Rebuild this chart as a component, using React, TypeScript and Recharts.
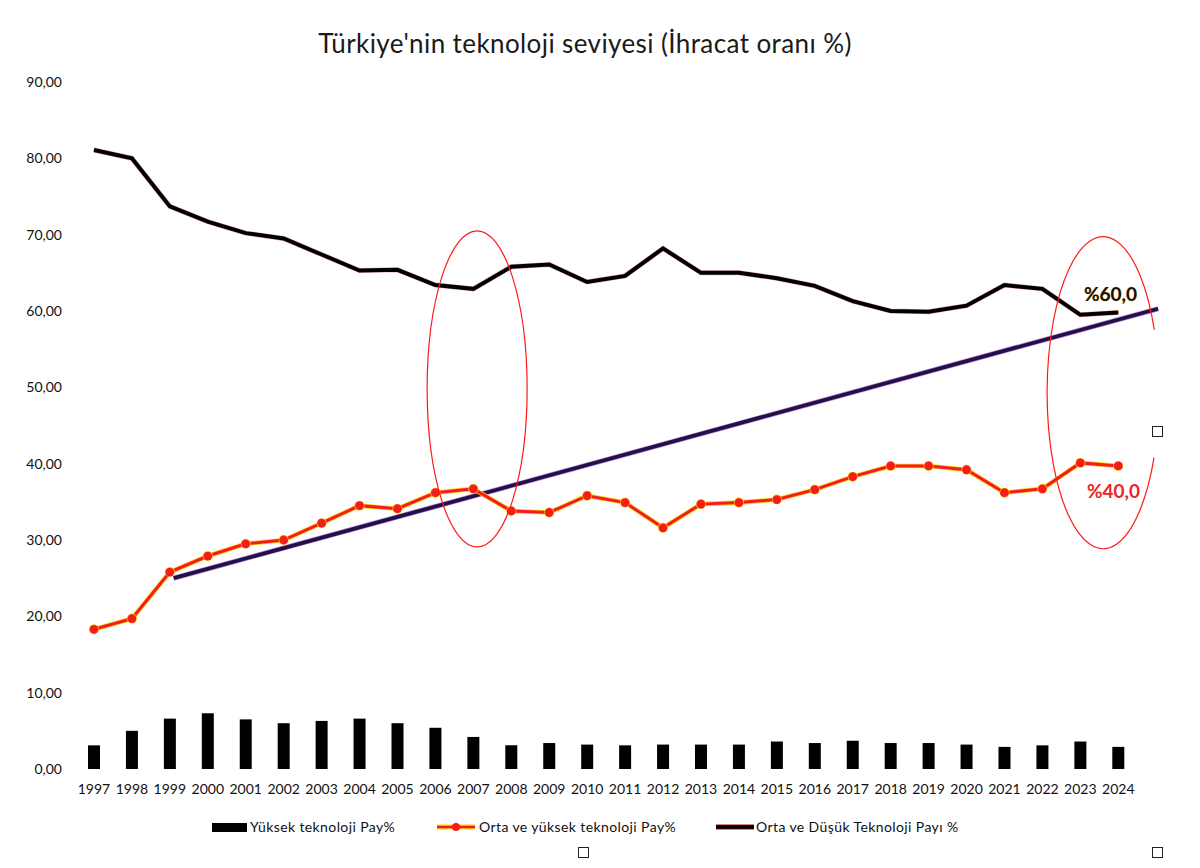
import React from 'react';
import {
  ComposedChart,
  Bar,
  Line,
  XAxis,
  YAxis,
  ReferenceLine,
  ReferenceDot,
} from 'recharts';

// ---- data ----
const years = [
  1997, 1998, 1999, 2000, 2001, 2002, 2003, 2004, 2005, 2006, 2007, 2008, 2009, 2010,
  2011, 2012, 2013, 2014, 2015, 2016, 2017, 2018, 2019, 2020, 2021, 2022, 2023, 2024,
];
const highTech = [
  3.1, 5.0, 6.6, 7.3, 6.5, 6.0, 6.3, 6.6, 6.0, 5.4, 4.2, 3.1, 3.4, 3.2,
  3.1, 3.2, 3.2, 3.2, 3.6, 3.4, 3.7, 3.4, 3.4, 3.2, 2.9, 3.1, 3.6, 2.9,
];
const midHighTech = [
  18.3, 19.7, 25.8, 27.9, 29.5, 30.0, 32.2, 34.5, 34.1, 36.2, 36.7, 33.8, 33.6, 35.8,
  34.9, 31.6, 34.7, 34.9, 35.3, 36.6, 38.3, 39.7, 39.7, 39.2, 36.2, 36.7, 40.1, 39.7,
];
const midLowTech = [
  81.1, 80.0, 73.7, 71.7, 70.2, 69.5, 67.4, 65.3, 65.4, 63.4, 62.9, 65.8, 66.1, 63.8,
  64.6, 68.2, 65.0, 65.0, 64.3, 63.3, 61.3, 60.0, 59.9, 60.7, 63.4, 62.9, 59.5, 59.8,
];
const yTicks = [0, 10, 20, 30, 40, 50, 60, 70, 80, 90];

// hand drawn trend line and the two circled regions
const trendStart = { year: 1999.1, value: 25.0 };
const trendEnd = { year: 2025.05, value: 60.3 };
const circle2007 = { year: 2007.1, value: 49.8 };
const circleEnd = { year: 2023.6, value: 49.3 };

const seriesNames = {
  high: 'Yüksek teknoloji Pay%',
  midHigh: 'Orta ve yüksek teknoloji Pay%',
  midLow: 'Orta ve Düşük Teknoloji Payı %',
};

const rows = years.map((y, i) => ({
  year: y,
  high: highTech[i],
  midHigh: midHighTech[i],
  midLow: midLowTech[i],
}));

const fmt = (v: number) => v.toFixed(2).replace('.', ',');
const font = 'Lato, "Open Sans", sans-serif';

function Ellipse(props: any) {
  const { cx, cy } = props;
  return <ellipse cx={cx} cy={cy} rx={50} ry={158} fill="none" stroke="#ff1a1a" strokeWidth={1.2} />;
}

// right side of the second ellipse is broken around the small handle
function BrokenEllipse(props: any) {
  const { cx, cy } = props;
  const rx = 56;
  const ry = 156;
  const a1 = (24.6 * Math.PI) / 180;
  const a2 = (-23.8 * Math.PI) / 180;
  const x1 = cx + rx * Math.cos(a1);
  const y1 = cy + ry * Math.sin(a1);
  const x2 = cx + rx * Math.cos(a2);
  const y2 = cy + ry * Math.sin(a2);
  return (
    <path
      d={`M${x1},${y1} A${rx},${ry} 0 1 1 ${x2},${y2}`}
      fill="none"
      stroke="#ff1a1a"
      strokeWidth={1.2}
    />
  );
}

const Handle = ({ left, top }: { left: number; top: number }) => (
  <div
    style={{
      position: 'absolute',
      left,
      top,
      width: 9,
      height: 9,
      border: '1px solid #222',
      background: '#fff',
    }}
  />
);

export default function App() {
  return (
    <div style={{ position: 'absolute', left: 0, top: 0, width: 1200, height: 868, background: '#fff', fontFamily: font }}>
      <div
        style={{
          position: 'absolute',
          top: 27,
          left: 0,
          width: 1170,
          textAlign: 'center',
          fontSize: 26,
          letterSpacing: 0.4,
          color: '#1a1a1a',
        }}
      >
        Türkiye'nin teknoloji seviyesi (İhracat oranı %)
      </div>

      <ComposedChart
        width={1200}
        height={800}
        data={rows}
        margin={{ top: 82, right: 40, left: 0, bottom: 0 }}
        style={{ position: 'absolute', left: 0, top: 0 }}
      >
        <XAxis
          dataKey="year"
          type="number"
          domain={[1996.5, 2025.1]}
          ticks={years}
          interval={0}
          axisLine={false}
          tickLine={false}
          tickSize={0}
          tickMargin={15}
          height={31}
          tick={{ fontSize: 14, fill: '#111', fontFamily: font }}
        />
        <YAxis
          domain={[0, 90]}
          ticks={yTicks}
          width={75}
          axisLine={false}
          tickLine={false}
          tickSize={0}
          tickMargin={13}
          tickFormatter={fmt}
          tick={{ fontSize: 14, fill: '#111', fontFamily: font }}
        />
        <Bar dataKey="high" name={seriesNames.high} fill="#000" barSize={12} isAnimationActive={false} />

        <ReferenceLine
          segment={[
            { x: trendStart.year, y: trendStart.value },
            { x: trendEnd.year, y: trendEnd.value },
          ]}
          stroke="#c78bd0"
          strokeWidth={5.2}
        />
        <ReferenceLine
          segment={[
            { x: trendStart.year, y: trendStart.value },
            { x: trendEnd.year, y: trendEnd.value },
          ]}
          stroke="#22104a"
          strokeWidth={3.8}
        />

        <Line
          dataKey="midLow"
          stroke="#d01010"
          strokeOpacity={0.35}
          strokeWidth={5}
          dot={false}
          legendType="none"
          isAnimationActive={false}
        />
        <Line
          dataKey="midLow"
          name={seriesNames.midLow}
          stroke="#000"
          strokeWidth={4}
          dot={false}
          isAnimationActive={false}
        />
        <Line
          dataKey="midHigh"
          stroke="#ffd21a"
          strokeWidth={4.6}
          dot={{ r: 5, fill: '#ffd21a', stroke: 'none' }}
          legendType="none"
          isAnimationActive={false}
        />
        <Line
          dataKey="midHigh"
          name={seriesNames.midHigh}
          stroke="#f41d1d"
          strokeWidth={3}
          dot={{ r: 4.4, fill: '#f41d1d', stroke: 'none' }}
          isAnimationActive={false}
        />

        <ReferenceDot x={circle2007.year} y={circle2007.value} shape={Ellipse} />
        <ReferenceDot x={circleEnd.year} y={circleEnd.value} shape={BrokenEllipse} />
      </ComposedChart>

      <div
        style={{
          position: 'absolute',
          left: 1084,
          top: 282,
          fontSize: 19,
          fontWeight: 700,
          color: '#141414',
          textShadow: '0 0 1px #ff9a1a',
        }}
      >
        %60,0
      </div>
      <div
        style={{
          position: 'absolute',
          left: 1087,
          top: 479,
          fontSize: 19,
          fontWeight: 700,
          color: '#f02222',
        }}
      >
        %40,0
      </div>

      {/* legend */}
      <div
        style={{
          position: 'absolute',
          top: 818,
          left: 0,
          width: 1200,
          height: 20,
          fontSize: 14,
          letterSpacing: 0.4,
          color: '#111',
        }}
      >
        <div style={{ position: 'absolute', left: 212, top: 5, width: 35, height: 9, background: '#000' }} />
        <div style={{ position: 'absolute', left: 250, top: 0 }}>{seriesNames.high}</div>

        <svg style={{ position: 'absolute', left: 436, top: 2 }} width={40} height={14}>
          <line x1={1} y1={7} x2={39} y2={7} stroke="#ffd21a" strokeWidth={5} />
          <line x1={1} y1={7} x2={39} y2={7} stroke="#f41d1d" strokeWidth={2.5} />
          <circle cx={20} cy={7} r={4} fill="#f41d1d" />
        </svg>
        <div style={{ position: 'absolute', left: 479, top: 0 }}>{seriesNames.midHigh}</div>

        <svg style={{ position: 'absolute', left: 715, top: 2 }} width={40} height={14}>
          <line x1={1} y1={7} x2={39} y2={7} stroke="#b01010" strokeWidth={5} />
          <line x1={1} y1={7} x2={39} y2={7} stroke="#000" strokeWidth={3.5} />
        </svg>
        <div style={{ position: 'absolute', left: 756, top: 0 }}>{seriesNames.midLow}</div>
      </div>

      <Handle left={1152} top={426} />
      <Handle left={578} top={847} />
      <Handle left={1152} top={847} />
    </div>
  );
}
